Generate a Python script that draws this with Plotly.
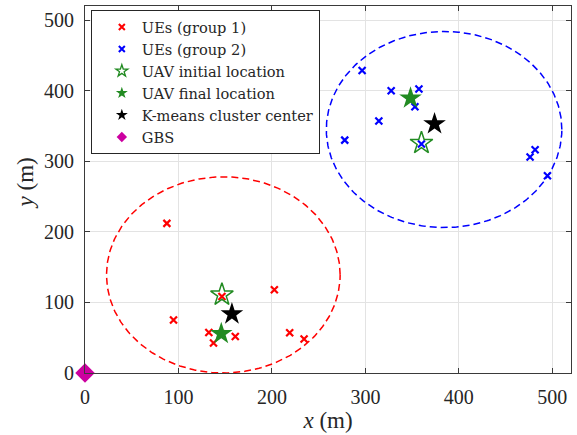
import numpy as np
import plotly.graph_objects as go

# ---- data ----
ue1_x = [87.6, 94.7, 146.5, 202.6, 132.5, 137.5, 160.8, 219.0, 234.4, 145.8]
ue1_y = [212.0, 75.0, 108.5, 118.0, 57.5, 42.5, 51.8, 57.0, 48.2, 55.7]
ue2_x = [296.5, 327.6, 357.3, 353.0, 314.4, 277.9, 360.0, 476.2, 481.6, 494.8]
ue2_y = [428.6, 399.9, 402.3, 377.2, 357.0, 330.0, 324.4, 306.0, 316.3, 279.5]
uav_init_x = [146.5, 360.0]
uav_init_y = [110.9, 325.8]
uav_final_x = [145.8, 348.3]
uav_final_y = [55.7, 389.5]
km_x = [157.2, 374.0]
km_y = [83.6, 353.0]
gbs_x = [0]
gbs_y = [0]
# coverage ellipses: centre x, centre y, radius x, radius y
cov_cx = [148.0, 384.2]
cov_cy = [139.0, 345.0]
cov_rx = [125.0, 126.0]
cov_ry = [139.0, 139.0]
cov_colors = ["#FF0000", "#0000FF"]
ticks = [0, 100, 200, 300, 400, 500]

FONT = "Liberation Serif"
LEGFONT = "DejaVu Serif"
GREEN = "#228B22"
MAG = "#CC00A0"
fig = go.Figure()

t = np.linspace(0, 2 * np.pi, 400)
for cx, cy, rx, ry, c in zip(cov_cx, cov_cy, cov_rx, cov_ry, cov_colors):
    fig.add_trace(go.Scatter(x=cx + rx * np.cos(t), y=cy + ry * np.sin(t), mode="lines",
                             line=dict(color=c, width=1.5, dash="7px,4px"),
                             showlegend=False, hoverinfo="skip"))

# (name, x, y, plot marker, legend marker, cliponaxis)
series = [
    ("UEs (group 1)", ue1_x, ue1_y,
     dict(symbol="x-thin", size=7, line=dict(color="#FF0000", width=2.2)),
     dict(symbol="x-thin", size=6, line=dict(color="#FF0000", width=2.0)), True),
    ("UEs (group 2)", ue2_x, ue2_y,
     dict(symbol="x-thin", size=7, line=dict(color="#0000FF", width=2.2)),
     dict(symbol="x-thin", size=6, line=dict(color="#0000FF", width=2.0)), True),
    ("UAV initial location", uav_init_x, uav_init_y,
     dict(symbol="star-open", size=17, color=GREEN, line=dict(color=GREEN, width=1.5)),
     dict(symbol="star-open", size=9, color=GREEN, line=dict(color=GREEN, width=1.3)), True),
    ("UAV final location", uav_final_x, uav_final_y,
     dict(symbol="star", size=17, color=GREEN, line=dict(width=0)),
     dict(symbol="star", size=9, color=GREEN, line=dict(width=0)), True),
    ("K-means cluster center", km_x, km_y,
     dict(symbol="star", size=17, color="#000000", line=dict(width=0)),
     dict(symbol="star", size=9, color="#000000", line=dict(width=0)), True),
    ("GBS", gbs_x, gbs_y,
     dict(symbol="diamond", size=15, color=MAG, line=dict(width=0)),
     dict(symbol="diamond", size=8, color=MAG, line=dict(width=0)), False),
]
for name, xs, ys, mk, lmk, clip in series:
    fig.add_trace(go.Scatter(x=xs, y=ys, mode="markers", name=name, marker=mk,
                             cliponaxis=clip, showlegend=False))
for name, xs, ys, mk, lmk, clip in series:
    fig.add_trace(go.Scatter(x=[None], y=[None], mode="markers", name=name, marker=lmk,
                             showlegend=True, hoverinfo="skip"))

axis_common = dict(
    showgrid=True, gridcolor="#E3E3E3", gridwidth=1,
    showline=True, linecolor="#3A3A3A", linewidth=1, mirror="ticks",
    ticks="inside", ticklen=5, tickcolor="#3A3A3A",
    tickvals=ticks, ticktext=[str(v) for v in ticks],
    tickfont=dict(family=FONT, size=20, color="#262626"),
    zeroline=False, range=[0, 520],
)
fig.update_xaxes(**axis_common, ticklabelstandoff=6,
                 title=dict(text="<i>x</i> (m)", font=dict(family=FONT, size=23, color="#262626"), standoff=2))
fig.update_yaxes(**axis_common, ticklabelstandoff=6)

fig.add_annotation(text="<i>y</i> (m)", textangle=-90, xref="paper", yref="paper",
                   x=0, y=0.5, xanchor="center", yanchor="middle", xshift=-60, yshift=6,
                   showarrow=False, font=dict(family=FONT, size=23, color="#262626"))

fig.update_layout(
    width=577, height=435,
    margin=dict(l=85, r=6, t=6, b=62),
    plot_bgcolor="white", paper_bgcolor="white",
    legend=dict(x=0.012, y=0.989, xanchor="left", yanchor="top",
                bgcolor="white", bordercolor="#262626", borderwidth=1,
                font=dict(family=LEGFONT, size=14.6, color="#262626"),
                itemsizing="trace", tracegroupgap=0, indentation=10),
)

fig.write_html("out.html", config={"displayModeBar": False},
               post_script="document.body.style.margin='0';document.body.style.overflow='hidden';")
